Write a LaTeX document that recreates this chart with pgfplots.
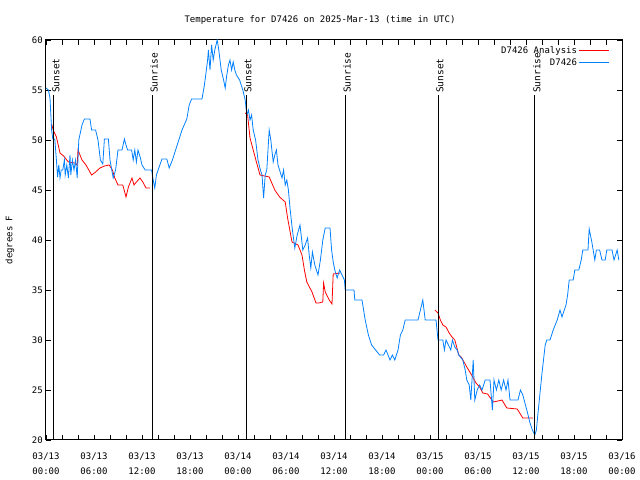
\documentclass[border=0pt]{standalone}
\usepackage{fontspec}
\setmainfont{DejaVu Sans Mono}
\usepackage{pgfplots}
\pgfplotsset{compat=1.18}
\definecolor{sblue}{RGB}{0,128,255}
\definecolor{sred}{RGB}{255,0,0}
\begin{document}
\fontsize{9bp}{11bp}\selectfont
\begin{tikzpicture}[x=1bp,y=1bp]
\useasboundingbox (-46,-40) rectangle (594,440);
\begin{axis}[
  at={(0,0)}, anchor=south west,
  scale only axis, width=576bp, height=400bp,
  xmin=0, xmax=72, ymin=20, ymax=60,
  axis line style={line width=1bp},
  xtick={0,6,...,72},
  minor x tick num=2,
  ytick={20,25,...,60},
  major tick length=5bp, minor tick length=5bp,
  tick style={black, line width=0.8bp},
  xticklabels={{03/13\\00:00},{03/13\\06:00},{03/13\\12:00},{03/13\\18:00},{03/14\\00:00},{03/14\\06:00},{03/14\\12:00},{03/14\\18:00},{03/15\\00:00},{03/15\\06:00},{03/15\\12:00},{03/15\\18:00},{03/16\\00:00}},
  xticklabel style={align=center, yshift=-10bp, font=\fontsize{9bp}{15bp}\selectfont},
  yticklabel style={font=\fontsize{9bp}{11bp}\selectfont},
  /pgf/number format/assume math mode=true,
  ylabel={degrees F},
  ylabel style={at={(axis description cs:-0.0625,0.5)}, anchor=center, font=\fontsize{9bp}{11bp}\selectfont},
  title={Temperature for D7426 on 2025-Mar-13 (time in UTC)},
  title style={at={(axis description cs:0.4757,1.035)}, anchor=center, font=\fontsize{9bp}{11bp}\selectfont},
  unbounded coords=jump,
  legend style={at={(1,1)}, anchor=north east, xshift=-9bp, yshift=-2bp, draw=none, fill=none, font=\fontsize{9bp}{10bp}\selectfont, row sep=0bp},
  legend cell align=right,
  legend plot pos=right,
]
\addplot[color=sred, line width=0.8bp, legend image code/.code={\draw[sred, line width=0.8bp] (0bp,0bp) -- (30bp,0bp);}] coordinates {
(0.7,51.6) (0.9,51) (1.3,50.3) (1.75,48.7) (2.2,48.4) (2.8,47.8) (3.6,47.7) (3.9,47.5) (4.0,49) (4.5,48)
(5.0,47.5) (5.7,46.5) (6.2,46.8) (6.75,47.2) (7.3,47.4) (7.9,47.5) (8.3,47) (8.6,46.2) (9.0,45.5) (9.6,45.5)
(10.0,44.3) (10.3,45.3) (10.75,46.2) (11.0,45.5) (11.3,45.8) (11.75,46.2) (12.1,45.8) (12.5,45.2) (13.0,45.2)
(13.1,nan)
(24.9,52.7) (25.2,52.5) (25.5,50.2) (25.9,49) (26.3,47.8) (26.75,46.5) (27.9,46.3) (28.6,45) (29.2,44.3) (29.9,43.8)
(30.2,42.2) (30.75,39.8) (31.5,39.5) (32.0,38.5) (32.3,37) (32.6,35.8) (33.25,34.8) (33.75,33.7) (34.1,33.7) (34.6,33.8)
(34.7,35.7) (34.9,34.8) (35.4,34) (35.75,33.6) (35.9,36.6) (36.75,36.7)
(36.8,nan)
(48.6,33) (49.0,32.7) (49.3,32) (49.6,31.5) (50.0,31.3) (50.4,30.7) (50.75,30.3) (51.1,30) (51.6,28.5) (51.9,28.3)
(52.6,27.3) (53.2,26.5) (53.75,25.7) (54.2,25.3) (54.6,24.7) (55.2,24.6) (55.9,23.8) (56.5,23.9) (57.0,24) (57.6,23.2)
(58.9,23.1) (59.6,22.2) (60.9,22.2)
};
\addlegendentry{D7426 Analysis}
\addplot[color=sblue, line width=0.8bp, legend image code/.code={\draw[sblue, line width=0.8bp] (0bp,0bp) -- (30bp,0bp);}] coordinates {
(0,55.2) (0.3,55) (0.5,54.2) (0.7,51) (0.85,50.1) (1.1,50.1) (1.3,48) (1.45,46.3) (1.6,47.5) (1.75,46.2)
(1.9,47) (2.1,47) (2.3,48) (2.4,46.5) (2.6,47.5) (2.8,46.2) (3.0,48.5) (3.1,46.5) (3.3,48) (3.5,47)
(3.7,48) (3.9,46.2) (4.1,50) (4.5,51.5) (4.8,52.1) (5.5,52.1) (5.7,51) (6.2,51) (6.5,50) (6.8,48)
(7.1,47.6) (7.3,50.1) (7.8,50.1) (8.0,48) (8.4,46.2) (8.7,47) (9.0,49) (9.5,49) (9.8,50.1) (10.0,49.5)
(10.2,49) (10.7,49) (10.9,48) (11.1,49) (11.3,47.8) (11.5,49) (11.8,48.2) (12.0,47.5) (12.4,47) (13.2,47)
(13.4,46) (13.6,45.2) (13.8,46.5) (14.1,47.2) (14.5,48.1) (15.1,48.1) (15.4,47.2) (15.8,48) (16.2,49) (16.6,50)
(17.0,51) (17.6,52.1) (17.9,53.5) (18.2,54.1) (19.5,54.1) (19.8,55.5) (20.0,56.7) (20.2,58) (20.3,59) (20.5,57)
(20.7,59.5) (20.9,58) (21.1,59) (21.4,60) (21.6,59) (21.9,57) (22.2,56) (22.4,55.2) (22.6,56.5) (22.8,57.5)
(23.0,58) (23.2,57) (23.4,57.8) (23.6,57) (23.8,56.5) (24.2,56) (24.6,55) (24.9,54) (25.1,52.5) (25.3,53)
(25.5,52) (25.7,52.5) (25.9,51) (26.2,50) (26.5,48) (26.8,47) (27.0,46.5) (27.2,44.2) (27.4,46.5) (27.6,47)
(27.9,51) (28.1,50) (28.4,47.8) (28.6,48.5) (28.8,49) (29.0,47.5) (29.5,46.2) (29.7,47) (29.9,45.5) (30.1,46)
(30.3,45) (30.5,43.2) (30.8,41) (31.1,39.2) (31.4,40.5) (31.75,41.5) (32.1,39) (32.4,39.5) (32.7,40.2) (32.9,38.5)
(33.1,37.2) (33.3,38.8) (33.6,37.5) (34.0,36.5) (34.3,38) (34.6,40) (34.9,41.2) (35.5,41.2) (35.7,39) (35.9,37.8)
(36.1,37) (36.4,36.2) (36.7,37) (37.0,36.5) (37.3,36) (37.4,35) (38.5,35) (38.6,34) (39.5,34) (39.9,32)
(40.3,30.5) (40.7,29.5) (41.2,29) (41.7,28.5) (42.2,28.5) (42.5,29) (43.0,28) (43.3,28.5) (43.6,28) (44.0,29)
(44.3,30.5) (44.6,31) (44.9,32) (46.5,32) (46.8,33) (47.1,34) (47.4,32) (48.75,32) (48.9,30.8) (49.0,30)
(49.6,30) (49.8,29) (50.0,30) (50.3,29.5) (50.6,29) (50.8,30) (51.1,29.3) (51.4,29) (51.6,28.5) (52.1,28)
(52.4,27) (52.6,26) (52.9,25.5) (53.1,24) (53.4,28) (53.6,24) (53.9,25) (54.2,25.5) (54.5,25) (54.9,26)
(55.5,26) (55.8,23) (56.0,26) (56.3,25) (56.6,26) (56.9,25) (57.2,26) (57.5,25) (57.75,26) (58.0,24)
(59.0,24) (59.3,25) (59.6,24.5) (60.1,23) (60.5,21.7) (60.8,21) (61.1,20.5) (61.3,21) (61.5,22.7) (62.0,26.7)
(62.4,29.5) (62.6,30) (63.0,30) (63.4,31) (63.9,32) (64.25,33) (64.5,32.3) (64.7,32.8) (65.0,33.5) (65.2,34.5)
(65.4,36) (65.9,36) (66.1,37) (66.6,37) (66.9,38) (67.1,39) (67.75,39) (67.85,40.5) (67.9,41.1) (68.1,40.3)
(68.25,39.7) (68.6,38) (68.8,39) (69.2,39) (69.5,38) (69.9,38) (70.1,39) (70.75,39) (71.0,38) (71.4,39)
(71.6,38)
};
\addlegendentry{D7426}
\draw[black, line width=1bp] (axis cs:1,20) -- (axis cs:1,54.5);
\draw[black, line width=1bp] (axis cs:13.25,20) -- (axis cs:13.25,54.5);
\draw[black, line width=1bp] (axis cs:25,20) -- (axis cs:25,54.5);
\draw[black, line width=1bp] (axis cs:37.4,20) -- (axis cs:37.4,54.5);
\draw[black, line width=1bp] (axis cs:49,20) -- (axis cs:49,54.5);
\draw[black, line width=1bp] (axis cs:61.1,20) -- (axis cs:61.1,54.5);
\node[rotate=90, anchor=west, inner sep=1bp, font=\fontsize{9.5bp}{11bp}\selectfont] at (axis cs:1.25,54.6) {Sunset};
\node[rotate=90, anchor=west, inner sep=1bp, font=\fontsize{9.5bp}{11bp}\selectfont] at (axis cs:13.5,54.6) {Sunrise};
\node[rotate=90, anchor=west, inner sep=1bp, font=\fontsize{9.5bp}{11bp}\selectfont] at (axis cs:25.25,54.6) {Sunset};
\node[rotate=90, anchor=west, inner sep=1bp, font=\fontsize{9.5bp}{11bp}\selectfont] at (axis cs:37.65,54.6) {Sunrise};
\node[rotate=90, anchor=west, inner sep=1bp, font=\fontsize{9.5bp}{11bp}\selectfont] at (axis cs:49.25,54.6) {Sunset};
\node[rotate=90, anchor=west, inner sep=1bp, font=\fontsize{9.5bp}{11bp}\selectfont] at (axis cs:61.35,54.6) {Sunrise};
\end{axis}
\end{tikzpicture}
\end{document}
